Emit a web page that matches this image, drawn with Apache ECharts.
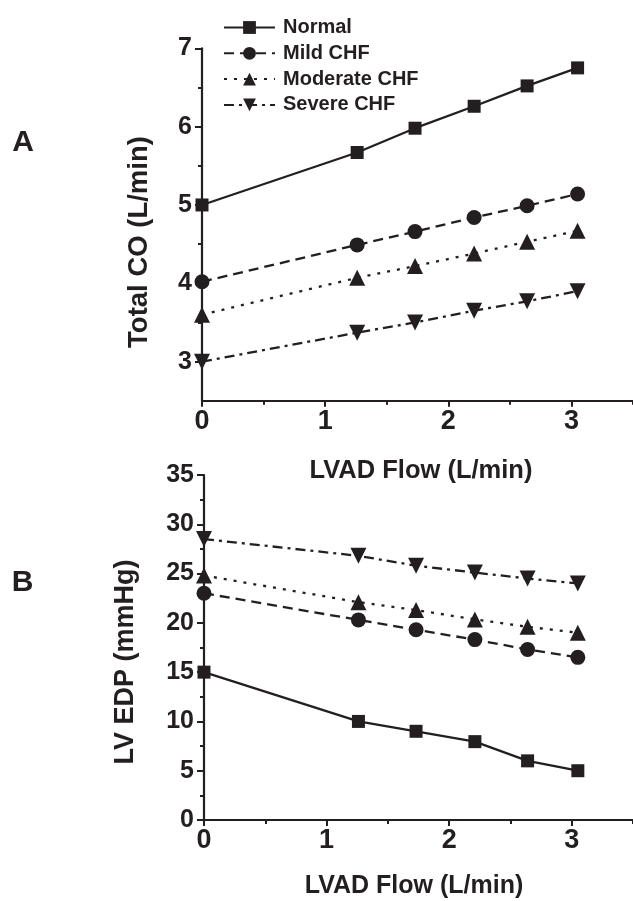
<!DOCTYPE html>
<html>
<head>
<meta charset="utf-8">
<script src="https://cdn.jsdelivr.net/npm/echarts@6/dist/echarts.min.js"></script>
<style>
html,body{margin:0;padding:0;background:#fff;}
#chart{width:633px;height:901px;}
</style>
</head>
<body>
<div id="chart"></div>
<script>
// ---- data ----
const seriesNames = ['Normal', 'Mild CHF', 'Moderate CHF', 'Severe CHF'];
const flow = [0, 1.26, 1.73, 2.21, 2.64, 3.05];
// Panel A: Total CO (L/min)
const coNormal   = [5.00, 5.67, 5.98, 6.26, 6.52, 6.75];
const coMild     = [4.02, 4.49, 4.66, 4.84, 4.99, 5.14];
const coModerate = [3.60, 4.07, 4.22, 4.38, 4.53, 4.67];
const coSevere   = [3.00, 3.37, 3.50, 3.65, 3.77, 3.90];
// Panel B: LV EDP (mmHg)
const edpNormal   = [15.0, 10.0, 9.0, 7.95, 6.0, 5.0];
const edpMild     = [23.0, 20.3, 19.3, 18.3, 17.3, 16.5];
const edpModerate = [24.8, 22.1, 21.3, 20.35, 19.6, 19.0];
const edpSevere   = [28.5, 26.8, 25.8, 25.1, 24.5, 24.0];
// axis ticks
const xMajor = [0, 1, 2, 3];
const xMinor = [0.5, 1.5, 2.5, 3.5];
const coMajor = [3, 4, 5, 6, 7];
const coMinor = [3.5, 4.5, 5.5, 6.5];
const edpMajor = [0, 5, 10, 15, 20, 25, 30, 35];
const edpMinor = [2.5, 7.5, 12.5, 17.5, 22.5, 27.5, 32.5];

const INK = '#231f20';
const FONT = '"Liberation Sans", Arial, sans-serif';

const styles = [
  {symbol: 'rect', symbolSize: 13, symbolRotate: 0, type: 'solid'},
  {symbol: 'circle', symbolSize: 15, symbolRotate: 0, type: [10, 6]},
  {symbol: 'triangle', symbolSize: 16, symbolRotate: 0, type: [3, 7]},
  {symbol: 'triangle', symbolSize: 16, symbolRotate: 180, type: [10, 5, 3, 5]}
];

function pairs(ys) { return flow.map((x, i) => [x, ys[i]]); }

function mkSeries(name, idx, ys, axisIdx) {
  const s = styles[idx];
  return {
    name: name, type: 'line', xAxisIndex: axisIdx, yAxisIndex: axisIdx,
    data: pairs(ys), symbol: s.symbol, symbolSize: s.symbolSize, symbolRotate: s.symbolRotate,
    showAllSymbol: true, clip: false, silent: true, animation: false,
    lineStyle: {color: INK, width: 2.3, type: s.type},
    itemStyle: {color: INK, borderWidth: 0}
  };
}

function xAxisMain(grid) {
  return {
    type: 'value', gridIndex: grid, min: 0, max: 3.5, position: 'bottom',
    axisLine: {show: true, lineStyle: {color: INK, width: 2.2}},
    axisTick: {show: true, customValues: xMajor, length: 6, lineStyle: {color: INK, width: 2}},
    axisLabel: {customValues: xMajor, color: INK, fontSize: 27, fontWeight: 'bold', fontFamily: FONT, margin: 7},
    splitLine: {show: false}
  };
}
function xAxisMinor(grid) {
  return {
    type: 'value', gridIndex: grid, min: 0, max: 3.5, position: 'bottom', offset: 0,
    axisLine: {show: false},
    axisTick: {show: true, customValues: xMinor, length: 4, lineStyle: {color: INK, width: 2}},
    axisLabel: {show: false}, splitLine: {show: false}
  };
}
function yAxisMain(grid, min, max, major) {
  return {
    type: 'value', gridIndex: grid, min: min, max: max, position: 'left',
    axisLine: {show: true, lineStyle: {color: INK, width: 2.2}},
    axisTick: {show: true, customValues: major, length: 7, lineStyle: {color: INK, width: 2}},
    axisLabel: {customValues: major, color: INK, fontSize: 25, fontWeight: 'bold', fontFamily: FONT, margin: 10},
    splitLine: {show: false}
  };
}
function yAxisMinor(grid, min, max, minor) {
  return {
    type: 'value', gridIndex: grid, min: min, max: max, position: 'left', offset: 0,
    axisLine: {show: false},
    axisTick: {show: true, customValues: minor, length: 4, lineStyle: {color: INK, width: 2}},
    axisLabel: {show: false}, splitLine: {show: false}
  };
}

const chart = echarts.init(document.getElementById('chart'), null, {renderer: 'canvas'});
const titleStyle = {fill: INK, fontWeight: 'bold', fontFamily: FONT, align: 'center', verticalAlign: 'middle'};

chart.setOption({
  backgroundColor: '#ffffff',
  animation: false,
  grid: [
    {left: 202, top: 48.3, width: 437.5, height: 352.5, containLabel: false},
    {left: 204, top: 475, width: 430, height: 345, containLabel: false}
  ],
  legend: {
    data: seriesNames, orient: 'vertical', left: 218, top: 12.5,
    itemWidth: 51, itemHeight: 16, itemGap: 5.8,
    symbolRotate: 'inherit',
    textStyle: {color: INK, fontSize: 20, fontWeight: 'bold', fontFamily: FONT, lineHeight: 20, padding: [0, 0, 0, 3]},
    selectedMode: false
  },
  xAxis: [xAxisMain(0), xAxisMinor(0), xAxisMain(1), xAxisMinor(1)],
  yAxis: [
    yAxisMain(0, 2.5, 7, coMajor), yAxisMinor(0, 2.5, 7, coMinor),
    yAxisMain(1, 0, 35, edpMajor), yAxisMinor(1, 0, 35, edpMinor)
  ],
  series: [
    mkSeries('Normal', 0, coNormal, 0),
    mkSeries('Mild CHF', 1, coMild, 0),
    mkSeries('Moderate CHF', 2, coModerate, 0),
    mkSeries('Severe CHF', 3, coSevere, 0),
    mkSeries('Normal', 0, edpNormal, 2),
    mkSeries('Mild CHF', 1, edpMild, 2),
    mkSeries('Moderate CHF', 2, edpModerate, 2),
    mkSeries('Severe CHF', 3, edpSevere, 2)
  ],
  graphic: [
    {type: 'text', x: 23, y: 143, style: Object.assign({text: 'A', fontSize: 30}, titleStyle)},
    {type: 'text', x: 22.5, y: 583, style: Object.assign({text: 'B', fontSize: 30}, titleStyle)},
    {type: 'text', x: 139, y: 242, rotation: Math.PI / 2, style: Object.assign({text: 'Total CO (L/min)', fontSize: 27.5}, titleStyle)},
    {type: 'text', x: 126, y: 662, rotation: Math.PI / 2, style: Object.assign({text: 'LV EDP (mmHg)', fontSize: 27}, titleStyle)},
    {type: 'text', x: 421, y: 471, style: Object.assign({text: 'LVAD Flow (L/min)', fontSize: 25.5}, titleStyle)},
    {type: 'text', x: 414, y: 886, style: Object.assign({text: 'LVAD Flow (L/min)', fontSize: 25}, titleStyle)}
  ]
});
</script>
</body>
</html>
